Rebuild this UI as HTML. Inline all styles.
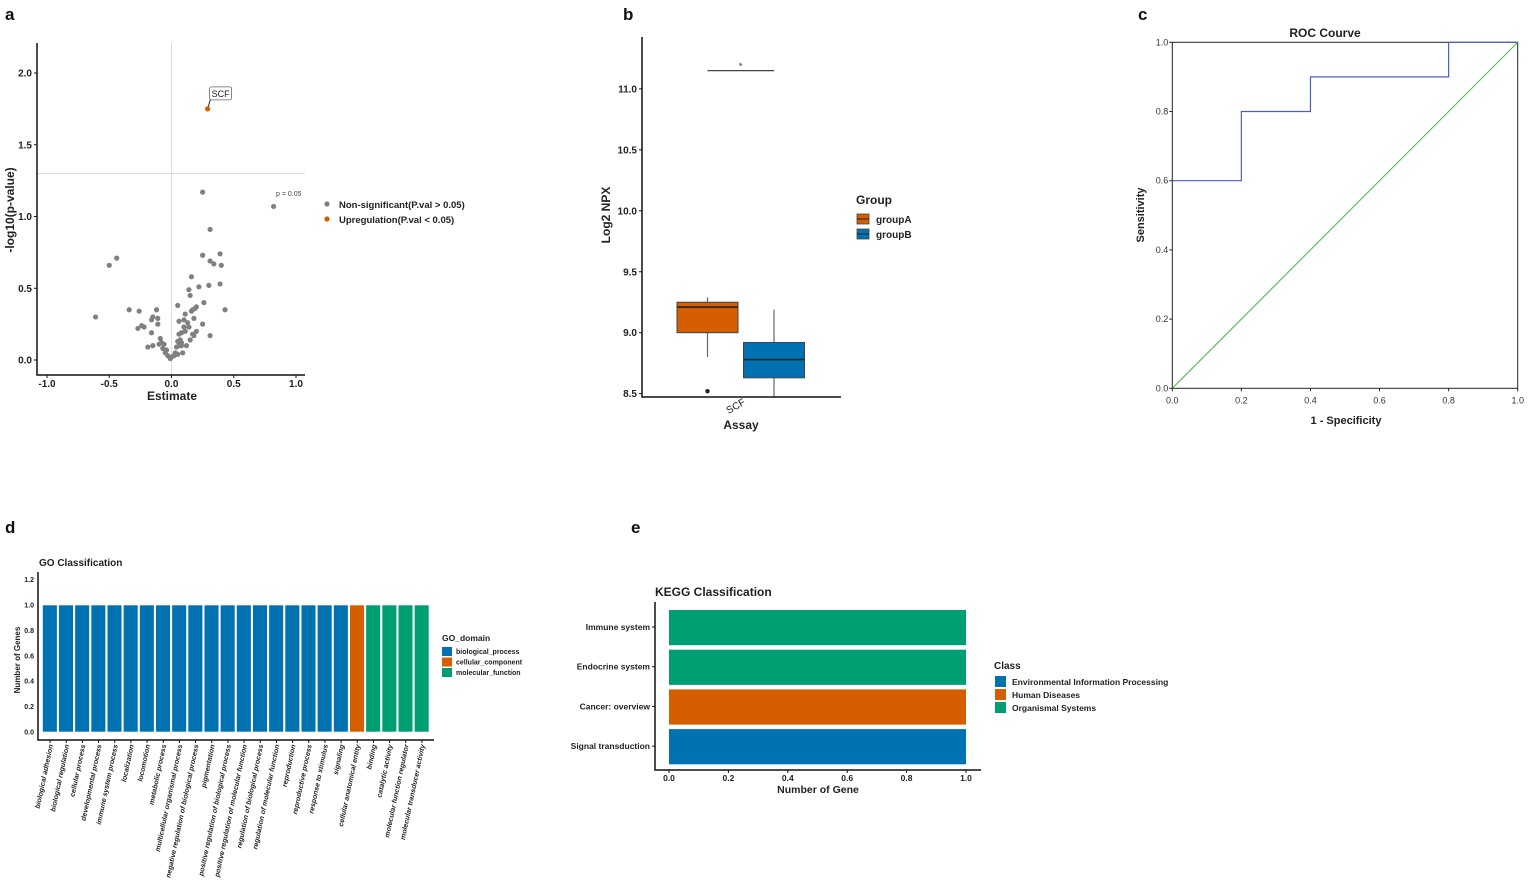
<!DOCTYPE html>
<html><head><meta charset="utf-8">
<style>
body{margin:0;background:#fff;}
svg{display:block;font-family:"Liberation Sans","DejaVu Sans",sans-serif;}
</style></head>
<body>
<svg id="fig" width="1535" height="893" viewBox="0 0 1535 893">
<g font-weight="bold" font-size="17" fill="#111">
<text x="5" y="20">a</text>
<text x="623" y="20">b</text>
<text x="1138" y="20">c</text>
<text x="5" y="533">d</text>
<text x="631" y="533">e</text>
</g>
<g id="pa"></g>
<g id="pb"></g>
<g id="pc"></g>
<g id="pd"></g>
<g id="pe"></g>
</svg>
<script>
// ---- Panel a data ----
const volcEst = [-0.61,-0.50,-0.44,-0.34,-0.26,-0.27,-0.24,-0.22,-0.19,-0.15,-0.16,-0.16,-0.15,-0.12,-0.11,-0.11,-0.09,-0.10,-0.08,-0.07,-0.06,-0.05,-0.04,-0.03,-0.01,0.00,0.02,0.03,0.04,0.05,0.05,0.06,0.06,0.07,0.08,0.08,0.09,0.10,0.10,0.11,0.11,0.12,0.13,0.14,0.14,0.15,0.15,0.16,0.16,0.17,0.17,0.18,0.18,0.19,0.20,0.20,0.22,0.25,0.25,0.25,0.26,0.30,0.31,0.31,0.31,0.34,0.39,0.39,0.40,0.43,0.82,0.06,0.07,0.05,0.08];
const volcP = [0.30,0.66,0.71,0.35,0.34,0.22,0.24,0.23,0.09,0.10,0.19,0.28,0.30,0.35,0.29,0.25,0.15,0.11,0.12,0.08,0.11,0.05,0.07,0.03,0.01,0.02,0.03,0.05,0.09,0.13,0.38,0.18,0.27,0.10,0.12,0.19,0.05,0.28,0.23,0.32,0.20,0.10,0.26,0.23,0.49,0.45,0.14,0.58,0.34,0.18,0.35,0.29,0.17,0.36,0.37,0.20,0.51,1.17,0.73,0.25,0.40,0.52,0.91,0.69,0.17,0.67,0.74,0.53,0.66,0.35,1.07,0.12,0.14,0.04,0.10];
const sigEst = [0.29];
const sigP = [1.75];
const volcXTicks = [-1.0,-0.5,0.0,0.5,1.0];
const volcYTicks = [0.0,0.5,1.0,1.5,2.0];
// ---- Panel b data ----
const boxGroups = ["groupA","groupB"];
const boxMin = [8.80,8.47];
const boxQ1 = [9.00,8.63];
const boxMed = [9.21,8.78];
const boxQ3 = [9.25,8.92];
const boxMax = [9.29,9.19];
const boxOutliers = [[8.52],[]];
const boxYTicks = [8.5,9.0,9.5,10.0,10.5,11.0];
// ---- Panel c data ----
const rocFpr = [0.0,0.2,0.2,0.4,0.4,0.8,0.8,1.0];
const rocTpr = [0.6,0.6,0.8,0.8,0.9,0.9,1.0,1.0];
const rocTicks = [0.0,0.2,0.4,0.6,0.8,1.0];
// ---- Panel d data ----
const goTerms = ["biological adhesion","biological regulation","cellular process","developmental process","immune system process","localization","locomotion","metabolic process","multicellular organismal process","negative regulation of biological process","pigmentation","positive regulation of biological process","positive regulation of molecular function","regulation of biological process","regulation of molecular function","reproduction","reproductive process","response to stimulus","signaling","cellular anatomical entity","binding","catalytic activity","molecular function regulator","molecular transducer activity"];
const goCounts = [1,1,1,1,1,1,1,1,1,1,1,1,1,1,1,1,1,1,1,1,1,1,1,1];
const goDomain = ["bp","bp","bp","bp","bp","bp","bp","bp","bp","bp","bp","bp","bp","bp","bp","bp","bp","bp","bp","cc","mf","mf","mf","mf"];
const goYTicks = [0.0,0.2,0.4,0.6,0.8,1.0,1.2];
// ---- Panel e data ----
const keggTerms = ["Immune system","Endocrine system","Cancer: overview","Signal transduction"];
const keggCounts = [1,1,1,1];
const keggClass = ["os","os","hd","eip"];
const keggXTicks = [0.0,0.2,0.4,0.6,0.8,1.0];

const NS="http://www.w3.org/2000/svg";
const C={blue:"#0072B2",orange:"#D55E00",green:"#009E73",bp:"#0072B2",cc:"#D55E00",mf:"#009E73",eip:"#0072B2",hd:"#D55E00",os:"#009E73"};
function mk(p,tag,a,txt){const e=document.createElementNS(NS,tag);for(const k in a)e.setAttribute(k,a[k]);if(txt!==undefined)e.textContent=txt;p.appendChild(e);return e;}

// ===== Panel a =====
(function(){
const g=document.getElementById('pa');
const X=v=>171.5+v*124.5, Y=v=>360-v*143.5;
let e;
e=mk(g,'line',{x1:X(0),x2:X(0),y1:43,y2:375,stroke:'#ddd','stroke-width':1});

e=mk(g,'line',{x1:37,x2:305,y1:Y(1.3),y2:Y(1.3),stroke:'#ddd','stroke-width':1});

e=mk(g,'text',{x:276,y:196,'font-size':7,fill:'#444'},'p = 0.05');

for(let i=0;i<volcEst.length;i++){
 e=mk(g,'circle',{cx:X(volcEst[i]),cy:Y(volcP[i]),r:2.6,fill:'#808080'});
 
}
for(let i=0;i<sigEst.length;i++){
 const cx=X(sigEst[i]),cy=Y(sigP[i]);
 e=mk(g,'line',{x1:cx,y1:cy,x2:cx+3,y2:cy-10,stroke:'#222','stroke-width':1});
 
 e=mk(g,'rect',{x:cx+2,y:cy-22,width:22,height:13,rx:2,fill:'#fff',stroke:'#666','stroke-width':0.8});
 
 e=mk(g,'text',{x:cx+13,y:cy-12,'font-size':9,'text-anchor':'middle',fill:'#222'},'SCF');
 
 e=mk(g,'circle',{cx:cx,cy:cy,r:2.6,fill:C.orange});
 
}
e=mk(g,'path',{d:'M37 43 V375 H305',fill:'none',stroke:'#111','stroke-width':1.5});

volcXTicks.forEach(t=>{
 e=mk(g,'line',{x1:X(t),x2:X(t),y1:375,y2:378,stroke:'#111'});
 
 e=mk(g,'text',{x:X(t),y:387,'font-size':10,'font-weight':'bold','text-anchor':'middle',fill:'#222'},t.toFixed(1));
 
});
volcYTicks.forEach(t=>{
 e=mk(g,'line',{x1:34,x2:37,y1:Y(t),y2:Y(t),stroke:'#111'});
 
 e=mk(g,'text',{x:32,y:Y(t)+3.5,'font-size':10,'font-weight':'bold','text-anchor':'end',fill:'#222'},t.toFixed(1));
 
});
e=mk(g,'text',{x:172,y:400,'font-size':12,'font-weight':'bold','text-anchor':'middle',fill:'#222'},'Estimate');

e=mk(g,'text',{x:0,y:0,'font-size':12,'font-weight':'bold','text-anchor':'middle',fill:'#222',transform:'translate(14,210) rotate(-90)'},'-log10(p-value)');

[['Non-significant(P.val > 0.05)','#808080'],['Upregulation(P.val < 0.05)',C.orange]].forEach((L,i)=>{
 e=mk(g,'circle',{cx:327,cy:204+i*15,r:2.6,fill:L[1]});
 
 e=mk(g,'text',{x:339,y:208+i*15,'font-size':9.5,'font-weight':'bold',fill:'#222'},L[0]);
 
});
})();

// ===== Panel b =====
(function(){
const g=document.getElementById('pb');
const Y=v=>332.7-(v-9.0)*121.9;
const centers=[707.5,774], hw=30.5, cols=[C.orange,C.blue];
let e;
for(let i=0;i<boxGroups.length;i++){
 const cx=centers[i];
 e=mk(g,'line',{x1:cx,x2:cx,y1:Y(boxMax[i]),y2:Y(boxMin[i]),stroke:'#666','stroke-width':1.2});
 
 e=mk(g,'rect',{x:cx-hw,y:Y(boxQ3[i]),width:2*hw,height:Y(boxQ1[i])-Y(boxQ3[i]),fill:cols[i],stroke:'#444','stroke-width':1});
 
 e=mk(g,'line',{x1:cx-hw,x2:cx+hw,y1:Y(boxMed[i]),y2:Y(boxMed[i]),stroke:'#222','stroke-width':1.6});
 
 boxOutliers[i].forEach(o=>{
  e=mk(g,'circle',{cx:cx,cy:Y(o),r:2.2,fill:'#222'});
  
 });
}
e=mk(g,'path',{d:`M${centers[0]} ${Y(11.15)} H${centers[1]}`,stroke:'#444','stroke-width':1.2,fill:'none'});

e=mk(g,'text',{x:(centers[0]+centers[1])/2,y:Y(11.15)-1,'font-size':10,'text-anchor':'middle',fill:'#444'},'*');

e=mk(g,'path',{d:'M642 37 V397 H841',fill:'none',stroke:'#111','stroke-width':1.5});

boxYTicks.forEach(t=>{
 e=mk(g,'line',{x1:639,x2:642,y1:Y(t),y2:Y(t),stroke:'#111'});
 
 e=mk(g,'text',{x:637,y:Y(t)+3.5,'font-size':10,'font-weight':'bold','text-anchor':'end',fill:'#222'},t.toFixed(1));
 
});
e=mk(g,'text',{x:0,y:0,'font-size':10,'text-anchor':'end',fill:'#222',transform:'translate(746,404) rotate(-30)'},'SCF');

e=mk(g,'text',{x:741,y:429,'font-size':12,'font-weight':'bold','text-anchor':'middle',fill:'#222'},'Assay');

e=mk(g,'text',{x:0,y:0,'font-size':12,'font-weight':'bold','text-anchor':'middle',fill:'#222',transform:'translate(610,215) rotate(-90)'},'Log2 NPX');

e=mk(g,'text',{x:856,y:204,'font-size':12,'font-weight':'bold',fill:'#222'},'Group');

boxGroups.forEach((n,i)=>{
 const y=214+i*15;
 e=mk(g,'rect',{x:857,y:y,width:12,height:10,fill:cols[i],stroke:'#444','stroke-width':0.8});
 
 e=mk(g,'line',{x1:857,x2:869,y1:y+5,y2:y+5,stroke:'#222'});
 
 e=mk(g,'text',{x:876,y:y+9,'font-size':10,'font-weight':'bold',fill:'#222'},n);
 
});
})();

// ===== Panel c =====
(function(){
const g=document.getElementById('pc');
const X=v=>1172.3+v*345.4, Y=v=>388.3-v*346;
let e;
e=mk(g,'rect',{x:X(0),y:Y(1),width:X(1)-X(0),height:Y(0)-Y(1),fill:'none',stroke:'#222','stroke-width':1});

e=mk(g,'line',{x1:X(0),y1:Y(0),x2:X(1),y2:Y(1),stroke:'#3cb93c','stroke-width':1});

e=mk(g,'polyline',{points:rocFpr.map((f,i)=>X(f)+','+Y(rocTpr[i])).join(' '),fill:'none',stroke:'#4a5fc1','stroke-width':1.2});

rocTicks.forEach(t=>{
 e=mk(g,'line',{x1:X(t),x2:X(t),y1:Y(0),y2:Y(0)+3,stroke:'#222'});
 
 e=mk(g,'text',{x:X(t),y:Y(0)+15,'font-size':9,'text-anchor':'middle',fill:'#333'},t.toFixed(1));
 
 e=mk(g,'line',{x1:X(0)-3,x2:X(0),y1:Y(t),y2:Y(t),stroke:'#222'});
 
 e=mk(g,'text',{x:X(0)-4,y:Y(t)+3,'font-size':9,'text-anchor':'end',fill:'#333'},t.toFixed(1));
 
});
e=mk(g,'text',{x:1325,y:37,'font-size':12,'font-weight':'bold','text-anchor':'middle',fill:'#222'},'ROC Courve');

e=mk(g,'text',{x:1346,y:424,'font-size':11,'font-weight':'bold','text-anchor':'middle',fill:'#222'},'1 - Specificity');

e=mk(g,'text',{x:0,y:0,'font-size':11,'font-weight':'bold','text-anchor':'middle',fill:'#222',transform:'translate(1144,215) rotate(-90)'},'Sensitivity');

})();

// ===== Panel d =====
(function(){
const g=document.getElementById('pd');
const Y=v=>732-v*127, x0=42, pitch=(430-42)/goTerms.length;
let e;
e=mk(g,'text',{x:39,y:566,'font-size':10,'font-weight':'bold',fill:'#222'},'GO Classification');

goTerms.forEach((t,i)=>{
 const x=x0+i*pitch;
 e=mk(g,'rect',{x:x+0.5,y:Y(goCounts[i]),width:pitch-1.5,height:Y(0)-Y(goCounts[i]),fill:C[goDomain[i]],stroke:'#fff','stroke-width':0.6});
 
 const cx=x+pitch/2;
 e=mk(g,'text',{x:0,y:0,'font-size':7,'font-style':'italic','font-weight':'bold','text-anchor':'end',fill:'#222',transform:`translate(${cx+3},${745}) rotate(-78)`},t);
 
 e=mk(g,'line',{x1:cx,x2:cx,y1:740,y2:743,stroke:'#111'});
 
});
e=mk(g,'path',{d:'M38 572 V740 H434',fill:'none',stroke:'#111','stroke-width':1.5});

goYTicks.forEach(t=>{
 e=mk(g,'text',{x:34,y:Y(t)+2.5,'font-size':7,'font-weight':'bold','text-anchor':'end',fill:'#222'},t.toFixed(1));
 
});
e=mk(g,'text',{x:0,y:0,'font-size':8,'font-weight':'bold','text-anchor':'middle',fill:'#222',transform:'translate(20,660) rotate(-90)'},'Number of Genes');

e=mk(g,'text',{x:442,y:641,'font-size':8.5,'font-weight':'bold',fill:'#222'},'GO_domain');

[['biological_process','bp'],['cellular_component','cc'],['molecular_function','mf']].forEach((L,i)=>{
 e=mk(g,'rect',{x:442,y:647+i*10.5,width:10,height:9,fill:C[L[1]]});
 
 e=mk(g,'text',{x:456,y:654+i*10.5,'font-size':7,'font-weight':'bold',fill:'#222'},L[0]);
 
});
})();

// ===== Panel e =====
(function(){
const g=document.getElementById('pe');
const X=v=>669+v*297, top=610, pitch=39.7;
let e;
e=mk(g,'text',{x:655,y:596,'font-size':12,'font-weight':'bold',fill:'#222'},'KEGG Classification');

keggTerms.forEach((t,i)=>{
 const y=top+i*pitch;
 e=mk(g,'rect',{x:X(0),y:y,width:X(keggCounts[i])-X(0),height:pitch-4.5,fill:C[keggClass[i]]});
 
 e=mk(g,'text',{x:650,y:y+20,'font-size':8.5,'font-weight':'bold','text-anchor':'end',fill:'#222'},t);
 
 e=mk(g,'line',{x1:652,x2:655,y1:y+17,y2:y+17,stroke:'#111'});
 
});
e=mk(g,'path',{d:'M655 602 V770 H981',fill:'none',stroke:'#111','stroke-width':1.5});

keggXTicks.forEach(t=>{
 e=mk(g,'line',{x1:X(t),x2:X(t),y1:770,y2:773,stroke:'#111'});
 
 e=mk(g,'text',{x:X(t),y:781,'font-size':8.5,'font-weight':'bold','text-anchor':'middle',fill:'#222'},t.toFixed(1));
 
});
e=mk(g,'text',{x:818,y:793,'font-size':10.5,'font-weight':'bold','text-anchor':'middle',fill:'#222'},'Number of Gene');

e=mk(g,'text',{x:994,y:669,'font-size':10,'font-weight':'bold',fill:'#222'},'Class');

[['Environmental Information Processing','eip'],['Human Diseases','hd'],['Organismal Systems','os']].forEach((L,i)=>{
 e=mk(g,'rect',{x:995,y:676+i*13,width:11,height:11,fill:C[L[1]]});
 
 e=mk(g,'text',{x:1012,y:685+i*13,'font-size':8.5,'font-weight':'bold',fill:'#222'},L[0]);
 
});
})();
</script>
</body></html>
